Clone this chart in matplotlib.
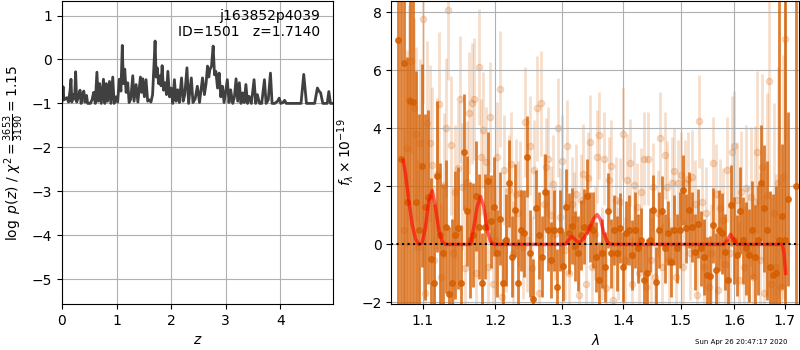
import numpy as np
import matplotlib
matplotlib.use('Agg')
import matplotlib.pyplot as plt
from matplotlib.ticker import FormatStrFormatter, NullLocator, NullFormatter

# p(z) curve, left panel
zgrid = [0.00, 0.02, 0.035, 0.06, 0.09, 0.12, 0.15, 0.165, 0.18, 0.21, 0.23, 0.25, 0.27, 0.30,
         0.33, 0.35, 0.38, 0.40, 0.42, 0.45, 0.47, 0.52, 0.55, 0.58, 0.61, 0.64, 0.665, 0.69,
         0.72, 0.76, 0.785, 0.81, 0.835, 0.87, 0.895, 0.93, 0.955, 0.99, 1.02, 1.05, 1.08,
         1.105, 1.125, 1.15, 1.175, 1.205, 1.23, 1.26, 1.297, 1.32, 1.358, 1.39, 1.437, 1.46,
         1.48, 1.51, 1.54, 1.57, 1.60, 1.63, 1.66, 1.706, 1.725, 1.746, 1.77, 1.80, 1.815,
         1.835, 1.86, 1.89, 1.915, 1.94, 1.97, 2.00, 2.03, 2.06, 2.09, 2.12, 2.15, 2.19, 2.22,
         2.25, 2.29, 2.32, 2.37, 2.40, 2.44, 2.48, 2.52, 2.575, 2.61, 2.64, 2.667, 2.69, 2.71,
         2.74, 2.77, 2.795, 2.82, 2.85, 2.88, 2.91, 2.94, 2.97, 3.03, 3.06, 3.09, 3.13, 3.16,
         3.19, 3.22, 3.25, 3.28, 3.31, 3.34, 3.37, 3.40, 3.43, 3.47, 3.52, 3.55, 3.58, 3.62,
         3.66, 3.71, 3.74, 3.78, 3.82, 3.85, 3.90, 3.95, 3.98, 4.01, 4.05, 4.08, 4.11, 4.38,
         4.43, 4.48, 4.63, 4.68, 4.71, 4.74, 4.78, 4.86, 4.89, 4.92, 4.97]
logpz = [-0.95, -0.62, -0.92, -0.90, -0.87, -0.97, -0.68, -0.45, -0.97, -0.80, -0.90, -0.28,
         -0.97, -0.85, -0.70, -1.00, -0.78, -0.72, -0.97, -0.82, -1.00, -1.00, -0.92, -0.75,
         -1.00, -0.29, -0.95, -0.55, -1.00, -0.45, -1.00, -0.55, -0.95, -0.50, -1.00, -0.40,
         -1.00, -0.85, -0.97, -0.45, -0.72, 0.32, -0.55, -0.22, -0.75, -0.53, -0.98, -0.90,
         -0.37, -0.95, -0.57, -0.97, -0.40, -0.75, -0.44, -0.85, -0.46, -0.95, -0.92, -0.97,
         -0.80, 0.42, -0.40, -0.19, -0.55, -0.37, -0.60, -0.14, -0.70, -0.53, -0.80, -0.27,
         -0.85, -0.65, -1.00, -0.46, -0.95, -0.69, -0.98, -0.42, -0.95, -0.80, -0.19, -1.00,
         -0.42, -0.98, -0.90, -0.61, -0.98, -0.42, -0.80, -0.55, -0.15, -0.40, -0.23, -0.15,
         0.305, -0.35, -0.27, -0.65, -0.31, -0.85, -0.61, -0.98, -0.46, -0.98, -0.69, -1.00,
         -0.85, -0.44, -0.95, -0.53, -1.00, -0.76, -0.98, -0.57, -1.00, -0.84, -1.00, -0.46,
         -1.00, -0.80, -1.00, -1.00, -0.46, -1.00, -0.92, -0.31, -1.00, -1.00, -0.95, -0.88,
         -1.00, -0.98, -0.93, -1.00, -1.00, -0.34, -1.00, -1.00, -0.65, -0.72, -0.76, -1.00,
         -1.00, -0.73, -1.00, -1.00]

# binned spectrum (dark)
dark_flux = [7.04, 2.96, 6.27, 1.47, 4.94, 4.92, 1.47, 0.49, 2.71, 1.30, 1.64, -0.50, -1.32,
             2.35, 0.32, -0.31, 0.61, -1.71, -1.32, 0.32, 0.57, -1.32, 3.17, 1.15, 0.15, 0.32,
             1.66, 0.61, -1.32, 0.61, 2.18, 0.80, 1.30, -0.31, 0.89, -1.32, 0.15, 2.10, -0.43,
             1.18, -1.32, 0.49, 0.38, 3.02, -0.31, -1.89, 1.27, 0.32, -0.43, 1.81, 0.49, -0.54,
             0.49, -1.46, 0.49, -0.74, 1.30, 0.38, 0.64, -0.06, -0.31, 0.32, 0.61,
             1.66, 0.61, 0.49, -0.43, -1.23, -0.31, -0.77, 1.16, -0.31, 0.49, -0.31, 0.57,
             -0.77, 0.38, 0.49, -0.37, 0.49, -0.14, 0.15, -1.23, -1.00, 0.15, 1.18, -1.29, 0.49,
             1.15, -0.14, 0.38, -0.60, 0.49, -0.14, 0.49, 1.87, 0.55, 1.18, 0.61, -0.26, 0.72,
             -0.14, -0.43, -1.06, -1.10, 0.66, -0.89, 0.49, 0.38, -0.26, -1.23, 1.35, 0.15,
             -0.37, 1.16, 0.15, -0.14, -0.37, 0.49, -0.43, 0.15, 2.12, 1.24, 0.49, -0.77, -1.06,
             -1.00, 0.15, 0.97, 0.15, 1.55]
dark_err = [12, 6, 10, 5, 9, 8, 4.5, 4, 3.5, 3.2,
            3.0, 2.8, 2.7, 2.6, 2.5, 2.4, 2.3, 2.3, 2.2, 2.2,
            2.1, 2.0, 2.0, 1.9, 2.0, 1.8, 1.9, 1.8, 1.7, 1.8,
            1.7, 1.6, 1.7, 1.5, 1.6, 1.5, 1.6, 1.5, 1.4, 1.6,
            1.5, 1.4, 1.5, 1.4, 1.5, 1.4, 1.3, 1.5, 1.4, 1.3,
            1.4, 1.3, 1.4, 1.3, 1.4, 1.2, 1.3, 1.4, 1.3, 1.2,
            1.3, 1.2, 1.3,
            1.3, 1.2, 1.3, 1.2, 1.3, 1.2, 1.2, 1.3, 1.2, 1.2,
            1.3, 1.2, 1.2, 1.1, 1.2, 1.2, 1.3, 1.2, 1.1, 1.2,
            1.2, 1.1, 1.2, 1.2, 1.3, 1.2, 1.2, 1.1, 1.2, 1.2,
            1.2, 1.3, 1.2, 1.2, 1.3, 1.2, 1.3, 1.2, 1.3, 1.3,
            1.3, 1.4, 1.3, 1.3, 1.4, 1.4, 1.3, 1.4, 1.4, 1.5,
            1.4, 1.5, 1.5, 1.6, 1.6, 1.7, 1.8, 1.9, 2.0, 2.2,
            2.4, 2.6, 2.8, 3.0, 9, 2.5, 12, 3.0]
dark_range = (1.068, 1.706)
# last pixel past the red edge
edge_wave = [1.723]
edge_flux = [2.0]
edge_err = [15]

# unbinned spectrum (light)
light_flux = [0.49, 3.31, 4.97, 6.32, 4.69, 3.82, -0.09, 3.48, 7.77, -1.69, 4.2, 3.48, 2.73,
              -0.54, 2.44, 4.84, -1.12, 2.04, 4.02, 8.08, 3.42, -0.31, 1.81, 2.62, 5.0, 1.99,
              -0.83, 2.16, 4.54, 4.86, 5.0, -0.98, 6.1, 3.02, 3.94, 2.85, -0.77, 4.38, -1.35,
              0.15, 3.02, 5.37, -1.81, 2.56, 0.15, 1.87, 2.77, -0.31, 1.75, 1.07, 1.78, -0.08,
              4.23, 0.15, 3.4, -0.83, 2.58, 4.69, -1.69, 4.86, 1.41, 2.67, 2.93, 1.0, 2.07, 0.37,
              4.03, 0.95, 2.86, -0.2, 3.39, -1.0, 1.41, 0.89, 1.75, -1.75, 1.52, 2.44, -1.35,
              2.28, 3.54, -0.77, 0.37, 3.02, 3.77, -0.31,
              2.96, -1.52, 2.22, 2.7, -1.92, 1.52, -0.31, 1.47, 3.82, -0.54, 2.21, 2.82, -1.35,
              2.04, 1.3, -1.0, 1.81, 2.96, -1.46, 2.96, -0.54, 1.98, -1.12, 1.07, 3.66, -0.77,
              3.08, 1.98, -0.54, 2.1, 2.52, -1.12, 2.1, 2.39, -0.77, 2.1, 2.27, -0.31, 2.33,
              1.41, -1.75, 4.25, 1.47, -0.77, 1.07, -1.46, -0.31, 2.79, 1.75, -1.58, 1.24, 0.83,
              -0.66, 2.58, -0.31, 3.2, 3.39, 1.52, -1.23, 1.81, -0.77, 1.93, -0.31, 1.64, -1.12,
              1.47, 3.19, -0.54, 2.67, -1.69, 1.72, 5.63, -1.35, 1.07, -0.77, 2.12, -1.46, 2.33,
              7.08]
light_err = [3.5, 3.4, 3.3, 3.2, 3.1, 3.0, 3.0, 2.9, 2.9, 2.8,
             2.8, 2.7, 2.7, 2.6, 2.6, 2.5, 2.5, 2.5, 2.4, 2.4,
             2.4, 2.3, 2.3, 2.3, 2.2, 2.2, 2.2, 2.1, 2.1, 2.1,
             2.1, 2.0, 2.0, 2.0, 2.0, 1.9, 1.9, 1.9, 1.9, 1.9,
             1.9, 2.0, 1.9, 1.9, 1.8, 1.9, 1.8, 1.8, 1.9, 1.8,
             1.8, 1.8, 1.9, 1.8, 1.7, 1.8, 1.7, 1.8, 1.7, 1.8,
             1.7, 1.7, 1.8, 1.7, 1.7, 1.6, 1.7, 1.7, 1.6, 1.7,
             1.6, 1.7, 1.6, 1.6, 1.7, 1.6, 1.6, 1.7, 1.6, 1.6,
             1.6, 1.5, 1.6, 1.6, 1.5, 1.6,
             1.6, 1.6, 1.5, 1.6, 1.6, 1.5, 1.6, 1.5, 1.6, 1.5,
             1.6, 1.5, 1.6, 1.5, 1.5, 1.6, 1.5, 1.6, 1.5, 1.6,
             1.5, 1.5, 1.6, 1.5, 1.6, 1.5, 1.5, 1.6, 1.5, 1.6,
             1.5, 1.6, 1.5, 1.5, 1.6, 1.5, 1.6, 1.6, 1.6, 1.5,
             1.6, 1.6, 1.5, 1.6, 1.6, 1.6, 1.7, 1.6, 1.7, 1.7,
             1.7, 1.8, 1.7, 1.8, 1.8, 1.9, 1.9, 2.0, 2.0, 2.1,
             2.1, 2.2, 2.3, 2.4, 2.5, 2.6, 2.8, 3.0, 3.2, 3.4,
             3.5, 3.6, 3.0, 3.8, 3.2, 4.0, 3.4, 4.2, 3.5]
light_range = (1.0757, 1.7015)

# best-fit line model
model_wave = [1.0743, 1.0773, 1.0817, 1.0860, 1.0904, 1.0948, 1.0992, 1.1036, 1.1080, 1.1125,
              1.1169, 1.1214, 1.1259, 1.1305, 1.1650, 1.1697, 1.1744, 1.1791, 1.1838, 1.1886,
              1.1934, 1.1982, 1.3060, 1.3113, 1.3166, 1.3219, 1.3271, 1.3351, 1.3432, 1.3513,
              1.3568, 1.3623, 1.3677, 1.3732, 1.3787, 1.5802, 1.5866, 1.5930, 1.5994, 1.6058,
              1.6952, 1.6986, 1.7020]
model_flux = [2.90, 2.45, 1.50, 0.70, 0.18, 0.00, 0.05, 0.60, 1.50, 1.85,
              1.30, 0.50, 0.10, 0.00, 0.00, 0.60, 1.30, 1.65, 1.30, 0.50,
              0.10, 0.00, 0.00, 0.17, 0.27, 0.15, 0.05, 0.20, 0.50, 0.90,
              1.03, 0.85, 0.40, 0.10, 0.00, 0.00, 0.15, 0.35, 0.15, 0.00,
              0.00, -0.30, -1.00]

grism_color = (0.835, 0.369, 0.0)

fig = plt.figure(figsize=(8, 3.5), dpi=100)
ax1 = fig.add_axes([0.0775, 0.131, 0.339, 0.866])
ax2 = fig.add_axes([0.489, 0.131, 0.510, 0.866])

# left: p(z)
ax1.plot(zgrid, logpz, color='0.25', linewidth=2)
ax1.set_xlim(0, 4.97)
ax1.set_ylim(-5.57, 1.33)
ax1.set_yticks([-5, -4, -3, -2, -1, 0, 1])
ax1.set_xticks([0, 1, 2, 3, 4])
ax1.grid()
ax1.set_xlabel('$z$')
ax1.set_ylabel(r'$\log\ p(z)$ / $\chi^2=\frac{3653}{3190}=1.15$')
ax1.text(0.95, 0.975, 'j163852p4039\nID=1501   z=1.7140', ha='right', va='top',
         transform=ax1.transAxes, fontsize=10)

# right: 1D spectrum
light_wave = np.geomspace(light_range[0], light_range[1], len(light_flux))
dark_wave = list(np.geomspace(dark_range[0], dark_range[1], len(dark_flux))) + edge_wave
ax2.errorbar(light_wave, light_flux, light_err, color=grism_color, alpha=0.2, marker='o',
             markersize=4.5, linestyle='None', elinewidth=2, zorder=1)
ax2.errorbar(dark_wave, dark_flux + edge_flux, dark_err + edge_err, color=grism_color,
             alpha=0.8, marker='o', markersize=4, linestyle='None', elinewidth=2, zorder=2)
ax2.plot(model_wave, model_flux, color='r', alpha=0.6, linewidth=2.5, zorder=3)
ax2.set_xscale('log')
ax2.set_xlim(1.059, 1.730)
ax2.axhline(0, color='k', linestyle=':', linewidth=1.5, zorder=4)
ax2.set_ylim(-2.06, 8.39)
ax2.set_xticks([1.1, 1.2, 1.3, 1.4, 1.5, 1.6, 1.7])
ax2.xaxis.set_major_formatter(FormatStrFormatter('%.1f'))
ax2.xaxis.set_minor_locator(NullLocator())
ax2.xaxis.set_minor_formatter(NullFormatter())
ax2.set_yticks([-2, 0, 2, 4, 6, 8])
ax2.grid()
ax2.set_xlabel(r'$\lambda$')
ax2.set_ylabel(r'$f_\lambda\times10^{-19}$')

fig.text(0.984, 0.015, 'Sun Apr 26 20:47:17 2020', ha='right', va='bottom', fontsize=5)

fig.savefig('out.png', dpi=100)
